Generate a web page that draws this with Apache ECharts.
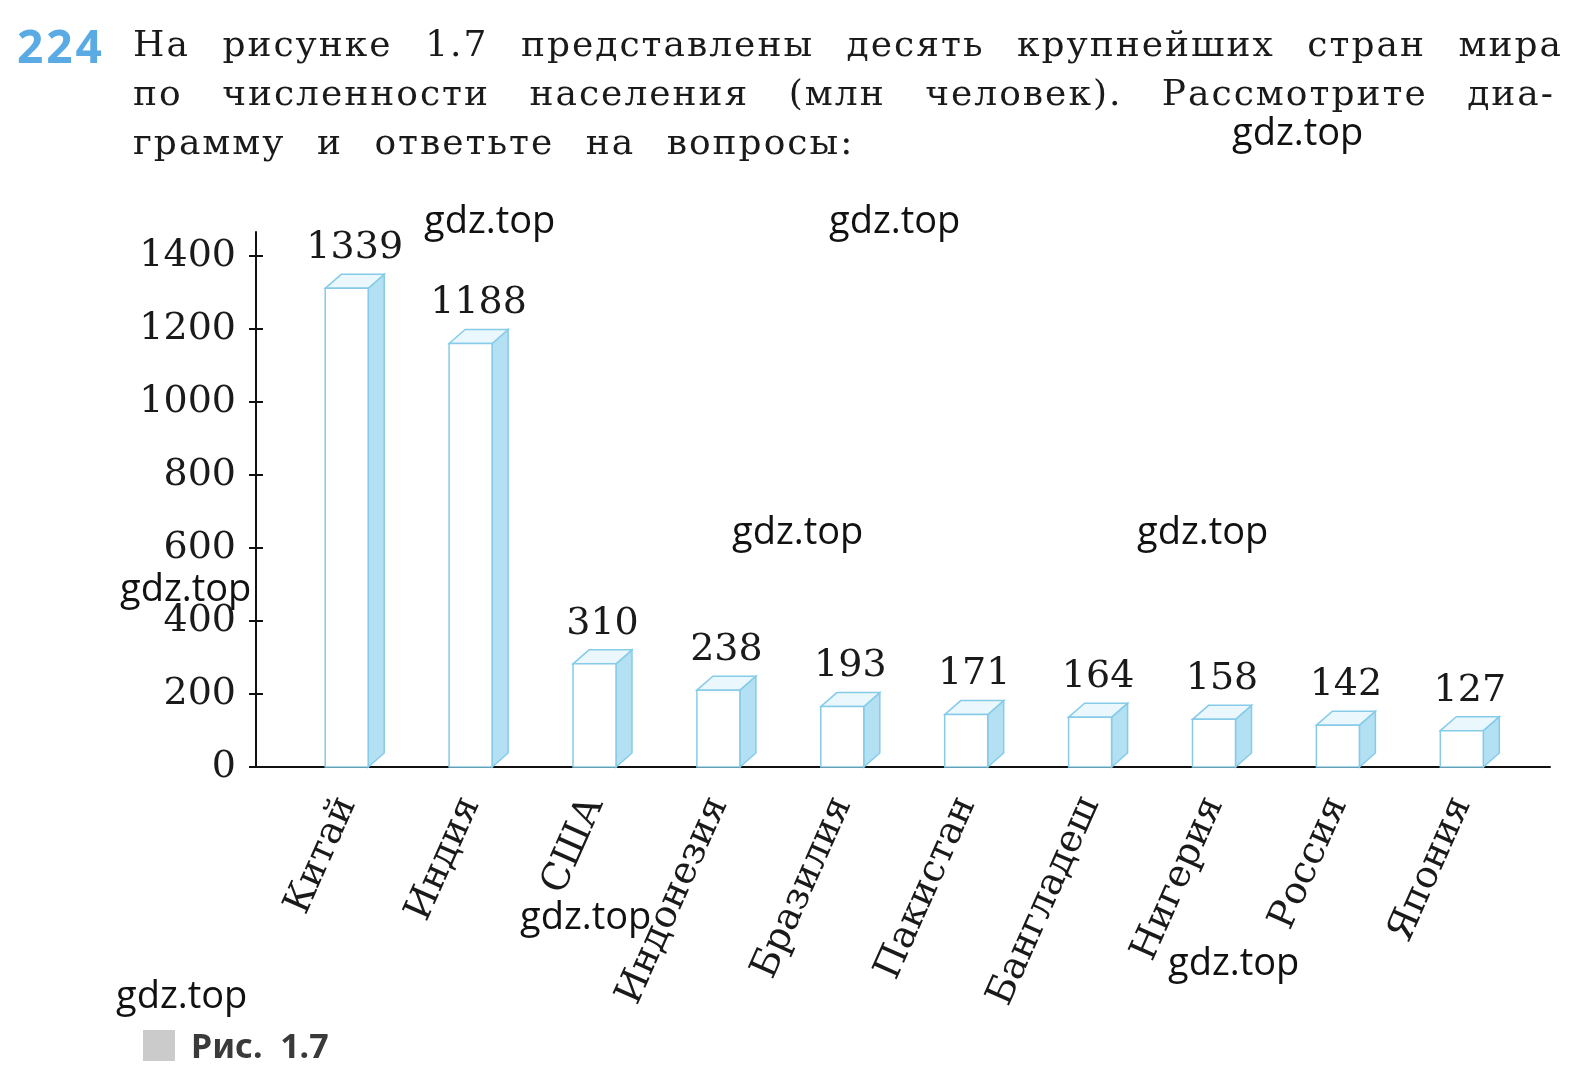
<!DOCTYPE html>
<html>
<head>
<meta charset="utf-8">
<script src="https://cdn.jsdelivr.net/npm/echarts@6/dist/echarts.min.js"></script>
<style>
  html, body { margin: 0; padding: 0; background: #fff; }
  #chart { position: absolute; left: 0; top: 0; width: 1594px; height: 1074px; }
  .num { position: absolute; left: 17px; top: 14px; font: bold 46px 'Noto Sans'; color: #5aaae4; letter-spacing: 3px; }
  .hdr { position: absolute; left: 133px; width: 1430px; font: 36px 'DejaVu Serif'; color: #1a1a1a; line-height: 49px; white-space: nowrap; }
  .just { text-align: justify; text-align-last: justify; letter-spacing: 2px; }
  .last { letter-spacing: 2px; word-spacing: 18px; }
</style>
</head>
<body>
<div id="chart"></div>
<div class="num">224</div>
<div class="hdr just" style="top:19px">На рисунке 1.7 представлены десять крупнейших стран мира</div>
<div class="hdr just" style="top:68px;width:1422px">по численности населения (млн человек). Рассмотрите диа-</div>
<div class="hdr last" style="top:117px">грамму и ответьте на вопросы:</div>
<script>
// десять крупнейших стран мира по численности населения (млн человек)
const countries = ['Китай', 'Индия', 'США', 'Индонезия', 'Бразилия', 'Пакистан', 'Бангладеш', 'Нигерия', 'Россия', 'Япония'];
const population = [1339, 1188, 310, 238, 193, 171, 164, 158, 142, 127];
const yTicks = [0, 200, 400, 600, 800, 1000, 1200, 1400];

// watermarks
const marks = [[1232, 115], [424, 203], [829, 203], [732, 514], [1137, 514], [120, 571], [520, 899], [1168, 945], [116, 978]];

const serif = 'DejaVu Serif';
const blueLine = '#86cbe8';

let chart = echarts.init(document.getElementById('chart'));

// box-like bar: front face, top face, side face
function renderBar(params, api) {
  let i = api.value(0);
  let v = api.value(1);
  let p = api.coord([i, v]);
  let b = api.coord([i, 0]);
  let w = 43, dx = 16, dy = 14;
  let xl = p[0] - w / 2, xr = p[0] + w / 2;
  let yF = p[1] + 10;
  let yB = b[1];
  return {
    type: 'group',
    children: [
      {
        type: 'polygon',
        shape: { points: [[xr, yF], [xr + dx, yF - dy], [xr + dx, yB - dy], [xr, yB]] },
        style: { fill: '#b3e1f3', stroke: blueLine, lineWidth: 1.5 }
      },
      {
        type: 'polygon',
        shape: { points: [[xl, yF], [xl + dx, yF - dy], [xr + dx, yF - dy], [xr, yF]] },
        style: { fill: '#eaf7fc', stroke: blueLine, lineWidth: 1.5 }
      },
      {
        type: 'rect',
        shape: { x: xl, y: yF, width: w, height: yB - yF },
        style: { fill: '#fff', stroke: blueLine, lineWidth: 1.5 }
      },
      {
        type: 'text',
        x: p[0] + dx / 2,
        y: yF - dy - 7,
        style: {
          text: String(v), font: '38px ' + serif, fill: '#1a1a1a',
          textAlign: 'center', textVerticalAlign: 'bottom'
        }
      }
    ]
  };
}

let graphics = marks.map(m => ({
  type: 'text', left: m[0], top: m[1], z: 100,
  style: { text: 'gdz.top', font: '38px "Open Sans"', fill: '#111' }
}));
graphics.push({
  type: 'rect', left: 143, top: 1030, shape: { width: 32, height: 31 },
  style: { fill: '#cbcbcb' }
});
graphics.push({
  type: 'text', left: 191, top: 1031,
  style: { text: 'Рис.  1.7', font: 'bold 34px "Noto Sans"', fill: '#3a3a3a' }
});

chart.setOption({
  animation: false,
  grid: [
    { left: 256, top: 232, width: 1294, height: 535 },
    { left: 284.75, top: 232, width: 1239, height: 535 }
  ],
  xAxis: [
    {
      type: 'value', gridIndex: 0, min: 0, max: 1,
      axisLine: { show: true, lineStyle: { color: '#111', width: 2 } },
      axisTick: { show: false }, axisLabel: { show: false }, splitLine: { show: false }
    },
    {
      type: 'category', gridIndex: 1, data: countries,
      axisLine: { show: false }, axisTick: { show: false },
      axisLabel: { rotate: 66, margin: 32, interval: 0, fontFamily: serif, fontSize: 38, color: '#1a1a1a' }
    }
  ],
  yAxis: [
    {
      type: 'value', gridIndex: 0, position: 'left', min: 0, max: 1466,
      axisLine: { show: true, lineStyle: { color: '#111', width: 2 } },
      axisTick: { show: true, length: 7, customValues: yTicks, lineStyle: { color: '#111', width: 2 } },
      axisLabel: { customValues: yTicks, margin: 20, fontFamily: serif, fontSize: 38, color: '#1a1a1a', formatter: v => String(v) },
      splitLine: { show: false }
    },
    {
      type: 'value', gridIndex: 1, min: 0, max: 1466, show: false
    },
    {
      type: 'value', gridIndex: 0, position: 'left', offset: 0, min: 0, max: 1466,
      axisLine: { show: false },
      axisTick: { show: true, inside: true, length: 7, customValues: yTicks, lineStyle: { color: '#111', width: 2 } },
      axisLabel: { show: false }, splitLine: { show: false }
    }
  ],
  series: [
    {
      type: 'custom',
      xAxisIndex: 1,
      yAxisIndex: 1,
      clip: false,
      renderItem: renderBar,
      encode: { x: 0, y: 1 },
      data: population.map((v, i) => [i, v])
    }
  ],
  graphic: graphics
});
</script>
</body>
</html>
